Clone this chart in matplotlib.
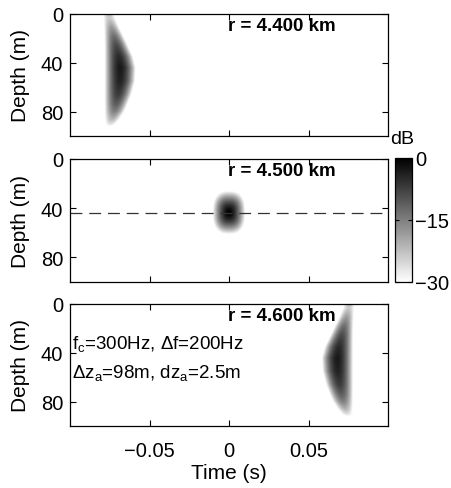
import numpy as np
import matplotlib
matplotlib.use("Agg")
import matplotlib.pyplot as plt

plt.rcParams['font.family'] = ['Liberation Sans', 'DejaVu Sans']
plt.rcParams['mathtext.fontset'] = 'custom'
plt.rcParams['mathtext.rm'] = 'Liberation Sans'
plt.rcParams['mathtext.it'] = 'Liberation Sans'

# Ranges of the three panels
ranges_km = [4.400, 4.500, 4.600]
time_lim = (-0.1, 0.1)
depth_lim = (0, 100)
db_lim = (-30, 0)
x_ticks = [-0.05, 0, 0.05]
x_ticklabels = ["\u22120.05", "0", "0.05"]
y_ticks = [0, 40, 80]
cbar_ticks = [0, -15, -30]
cbar_ticklabels = ["0", "\u221215", "\u221230"]
focus_depth = 43.5

# Arrival ridge per depth (before focus): left/right edge times at -30 dB, peak level
depth_knots = [0.5, 3, 6, 11, 18, 25, 35, 44, 55, 66, 74, 80, 86, 90, 92]
pre_left = [-0.0790, -0.0789, -0.0788, -0.0786, -0.0784, -0.0783, -0.0783, -0.0783, -0.0783, -0.0783, -0.0783, -0.0782, -0.0780, -0.0776, -0.0770]
pre_right = [-0.0722, -0.0718, -0.0708, -0.0692, -0.0665, -0.0640, -0.0605, -0.0588, -0.0592, -0.0615, -0.0640, -0.0660, -0.0690, -0.0715, -0.0740]
pre_peak_db = [-22, -24, -22, -18, -13, -9, -5, -3, -4, -7, -11, -15, -21, -26, -30]

# Arrival ridge per depth (after focus)
post_left = [0.0724, 0.0720, 0.0710, 0.0694, 0.0667, 0.0642, 0.0604, 0.0585, 0.0590, 0.0612, 0.0636, 0.0656, 0.0686, 0.0710, 0.0736]
post_right = [0.0788, 0.0787, 0.0786, 0.0784, 0.0782, 0.0781, 0.0781, 0.0781, 0.0781, 0.0781, 0.0781, 0.0780, 0.0778, 0.0774, 0.0768]
post_peak_db = [-22, -24, -22, -18, -13, -9, -5, -3, -4, -7, -11, -15, -21, -26, -30]

# Focal spot at the focus range
spot_time = 0.0
spot_depth = 43.5
spot_half_time = 0.0102
spot_half_depth = 17.5

t = np.linspace(time_lim[0], time_lim[1], 801)
z = np.linspace(depth_lim[0], depth_lim[1], 401)
T, Z = np.meshgrid(t, z)


def ridge_field(left, right, peak, sharp=1.9):
    lo = np.interp(z, depth_knots, left, left=np.nan, right=np.nan)[:, None]
    hi = np.interp(z, depth_knots, right, left=np.nan, right=np.nan)[:, None]
    p = np.interp(z, depth_knots, peak, left=np.nan, right=np.nan)[:, None]
    c = 0.5 * (lo + hi)
    w = 0.5 * (hi - lo)
    db = p - (p - db_lim[0]) * (np.abs(T - c) / w) ** sharp
    return np.nan_to_num(db, nan=db_lim[0] - 10)


def spot_field():
    r = ((np.abs(T - spot_time) / spot_half_time) ** 2.6
         + (np.abs(Z - spot_depth) / spot_half_depth) ** 2.6) ** (1 / 2.6)
    return db_lim[0] * r ** 1.6


fields = [ridge_field(pre_left, pre_right, pre_peak_db),
          spot_field(),
          ridge_field(post_left, post_right, post_peak_db)]

W, H = 451, 489
fig = plt.figure(figsize=(W / 100, H / 100), dpi=100)
fig.patch.set_facecolor('white')

panel_rects = [(70, 15, 388, 137), (70, 160, 388, 283), (70, 305, 388, 427)]


def to_fig(x0, y0, x1, y1):
    return [x0 / W, 1 - y1 / H, (x1 - x0) / W, (y1 - y0) / H]


tick_fs = 14.5
label_fs = 15
axes = []
for i, (rect, field, rkm) in enumerate(zip(panel_rects, fields, ranges_km)):
    ax = fig.add_axes(to_fig(*rect))
    im = ax.imshow(np.clip(field, db_lim[0], db_lim[1]), extent=[t[0], t[-1], z[-1], z[0]],
                   aspect='auto', cmap='gray_r', vmin=db_lim[0], vmax=db_lim[1],
                   interpolation='bilinear')
    ax.set_xlim(*time_lim)
    ax.set_ylim(depth_lim[1], depth_lim[0])
    ax.set_xticks(x_ticks)
    ax.set_yticks(y_ticks)
    ax.tick_params(direction='in', length=4, width=0.8, top=True, right=True,
                   labelsize=tick_fs)
    ax.tick_params(axis='y', pad=5)
    ax.tick_params(axis='x', pad=11)
    if i < 2:
        ax.set_xticklabels([])
    else:
        ax.set_xticklabels(x_ticklabels)
        ax.set_xlabel("Time (s)", fontsize=label_fs, labelpad=2)
    ax.set_ylabel("Depth (m)", fontsize=label_fs, labelpad=8)
    for s in ax.spines.values():
        s.set_linewidth(0.9)
    ax.text(-0.0006, 9.5, f"r = {rkm:.3f} km", fontsize=13.5, fontweight='bold',
            ha='left', va='center')
    axes.append(ax)
    if i == 1:
        ax.axhline(focus_depth, color='0.2', lw=0.9, dashes=(9.5, 5.5))
        mappable = im

axes[2].text(-0.0985, 36, r"f$_{\rm c}$=300Hz, $\Delta$f=200Hz", fontsize=13.5,
             ha='left', va='baseline')
axes[2].text(-0.0985, 59.5, r"$\Delta$z$_{\rm a}$=98m, dz$_{\rm a}$=2.5m", fontsize=13.5,
             ha='left', va='baseline')

cax = fig.add_axes(to_fig(395, 159, 412, 283))
cb = fig.colorbar(mappable, cax=cax, ticks=cbar_ticks)
cb.ax.set_yticklabels(cbar_ticklabels)
cb.ax.tick_params(direction='in', length=3, width=0.8, labelsize=tick_fs, pad=2,
                  left=True, right=True)
cb.outline.set_linewidth(0.9)
fig.text(402 / W, 1 - 139 / H, "dB", fontsize=14, ha='center', va='center')

fig.savefig("out.png", dpi=100, facecolor='white')
